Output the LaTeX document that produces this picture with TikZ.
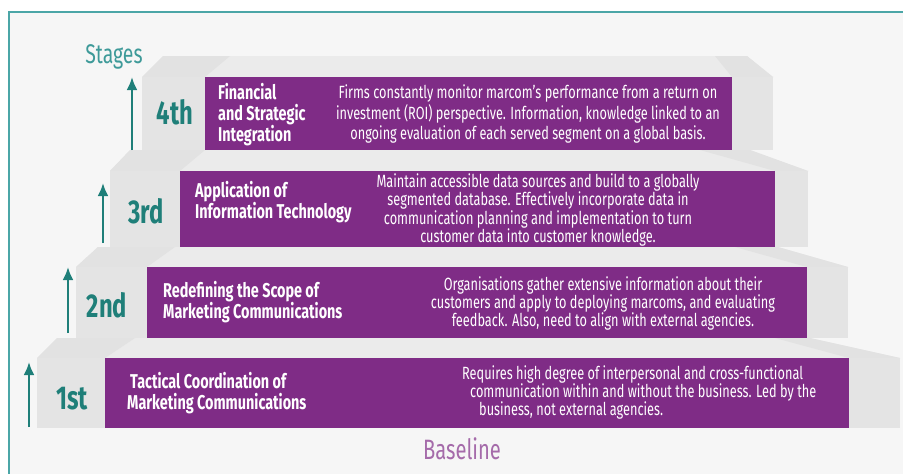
\documentclass[tikz,border=0pt]{standalone}
\usepackage{fontspec}
\setmainfont[FakeStretch=0.72]{Fira Sans}
\usepackage{tikz}
\usetikzlibrary{arrows.meta}

\definecolor{plum}{HTML}{7F2C86}
\definecolor{stepteal}{HTML}{1F7F79}
\definecolor{frameteal}{HTML}{4BA6A7}
\definecolor{paper}{HTML}{F6F6F6}
\definecolor{topgray}{HTML}{EBEBEB}
\definecolor{edgegray}{HTML}{E2E2E2}
\definecolor{frontgray}{HTML}{E4E4E4}

\tikzset{
	plumbox/.style={fill=plum, inner sep=0pt, anchor=north west},
	title/.style={white, anchor=west, align=left, inner sep=0pt,
		font=\bfseries\fontsize{20}{21}\selectfont},
	desc/.style={white, align=center, inner sep=0pt,
		font=\fontsize{17.7}{18}\selectfont},
	rank/.style={stepteal, anchor=base, inner sep=0pt,
		font=\bfseries\fontsize{33}{33}\selectfont},
	up/.style={-{Latex[length=13pt,width=11pt]}, stepteal, line width=2.8pt}
}

\begin{document}
\begin{tikzpicture}[x=1pt, y=-1pt]
	\useasboundingbox (0,0) rectangle (903,474);
	\fill [white] (0,0) rectangle (903,474);
	\fill [paper] (9,12) rectangle (903,474);
	\draw [frameteal, line width=1.6pt] (9,474) -- (9,12) -- (903,12);

	% the four stairs, top step first
	\fill [topgray] (163,56) -- (747,56) -- (773,77) -- (142,77) -- cycle;
	\fill [edgegray] (163,56) -- (230,56) -- (205,77) -- (142,77) -- cycle;
	\fill [edgegray] (715,56) -- (747,56) -- (773,77) -- (732,77) -- cycle;
	\fill [frontgray] (142,77) rectangle (773,150);

	\fill [topgray] (130,150) -- (750,150) -- (808,171) -- (110,171) -- cycle;
	\fill [edgegray] (130,150) -- (205,150) -- (180,171) -- (110,171) -- cycle;
	\fill [edgegray] (700,150) -- (750,150) -- (808,171) -- (775,171) -- cycle;
	\fill [frontgray] (110,171) rectangle (808,247);

	\fill [topgray] (98,247) -- (778,247) -- (848,267) -- (76,267) -- cycle;
	\fill [edgegray] (98,247) -- (175,247) -- (147,267) -- (76,267) -- cycle;
	\fill [edgegray] (735,247) -- (778,247) -- (848,267) -- (807,267) -- cycle;
	\fill [frontgray] (76,267) rectangle (848,338);

	\fill [topgray] (57,338) -- (810,338) -- (900,358) -- (37,358) -- cycle;
	\fill [edgegray] (57,338) -- (135,338) -- (105,358) -- (37,358) -- cycle;
	\fill [edgegray] (775,338) -- (810,338) -- (900,358) -- (849,358) -- cycle;
	\fill [frontgray] (37,358) rectangle (900,428);

	\node (P4) [plumbox, minimum width=527pt, minimum height=73pt] at (205,77) {};
	\node (P3) [plumbox, minimum width=595pt, minimum height=76pt] at (180,171) {};
	\node (P2) [plumbox, minimum width=660pt, minimum height=71pt] at (147,267) {};
	\node (P1) [plumbox, minimum width=744pt, minimum height=70pt] at (105,358) {};

	\node (S) [frameteal!70!stepteal, anchor=base, font=\fontsize{27}{27}\selectfont] at (114,63) {Stages};
	\node (B) [plum!70!white, anchor=base, font=\fontsize{28}{28}\selectfont] at (462,459) {Baseline};

	\node (r4) [rank] at (175,124) {4th};
	\node (r3) [rank] at (146,223) {3rd};
	\node (r2) [rank] at (107,317) {2nd};
	\node (r1) [rank] at (72,409) {1st};

	\coordinate (a4) at (132,150);
	\coordinate (b4) at (132,77);
	\coordinate (a3) at (103,243);
	\coordinate (b3) at (103,183);
	\coordinate (a2) at (68,333);
	\coordinate (b2) at (68,267);
	\coordinate (a1) at (29,427);
	\coordinate (b1) at (29,362);
	\draw [up] (a4) -- (b4);
	\draw [up] (a3) -- (b3);
	\draw [up] (a2) -- (b2);
	\draw [up] (a1) -- (b1);

	\node (t4) [title] at (218,115) {Financial\\and Strategic\\Integration};
	\node (t3) [title] at (195,202) {Application of\\Information Technology};
	\node (t2) [title] at (163,302) {Redefining the Scope of\\Marketing Communications};
	\node (t1) [title] at (127,393) {\hspace*{3pt}Tactical Coordination of\\Marketing Communications};

	\node (d4) [desc, font=\fontsize{17.7}{20.5}\selectfont] at (528,114) {Firms constantly monitor marcom's performance from a return on\\investment (ROI) perspective. Information, knowledge linked to an\\ongoing evaluation of each served segment on a global basis.};
	\node (d3) [desc, font=\fontsize{17.7}{16.7}\selectfont] at (538,210) {Maintain accessible data sources and build to a globally\\segmented database. Effectively incorporate data in\\communication planning and implementation to turn\\customer data into customer knowledge.};
	\node (d2) [desc] at (603,303) {Organisations gather extensive information about their\\customers and apply to deploying marcoms, and evaluating\\feedback. Also, need to align with external agencies.};
	\node (d1) [desc, anchor=west, align=left] at (462,392) {Requires high degree of interpersonal and cross-functional\\\hspace*{8pt}communication within and without the business. Led by the\\\hspace*{17pt}business, not external agencies.};
\end{tikzpicture}
\end{document}
